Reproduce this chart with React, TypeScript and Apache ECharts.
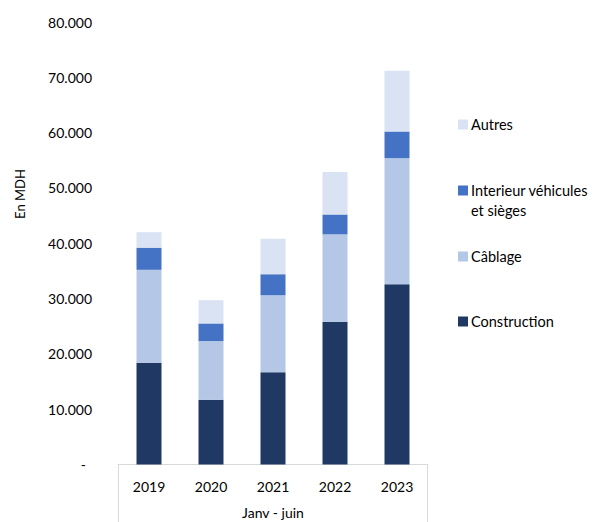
import React, { useEffect, useRef } from "react";
import * as echarts from "echarts";

const categories = ["2019", "2020", "2021", "2022", "2023"];
const construction = [18400, 11700, 16700, 25800, 32600];
const cablage = [16800, 10600, 13900, 15800, 22800];
const interieur = [4000, 3200, 3800, 3600, 4800];
const autres = [2800, 4200, 6400, 7700, 11000];
const yTicks = [0, 10000, 20000, 30000, 40000, 50000, 60000, 70000, 80000];

const FONT = "Lato";

const seriesDefs = [
  { name: "Construction", data: construction, color: "#203864" },
  { name: "Câblage", data: cablage, color: "#B4C7E7" },
  { name: "Interieur véhicules et sièges", data: interieur, color: "#4472C4" },
  { name: "Autres", data: autres, color: "#DAE3F3" },
];

const legendPos: Record<string, number> = {
  "Autres": 125,
  "Interieur véhicules et sièges": 191,
  "Câblage": 257,
  "Construction": 322,
};

function fmt(v: number): string {
  if (v === 0) return "{d|-}";
  const s = String(Math.round(v));
  return s.replace(/\B(?=(\d{3})+(?!\d))/g, ".");
}

export default function App() {
  const ref = useRef<HTMLDivElement>(null);
  useEffect(() => {
    if (!ref.current) return;
    const chart = echarts.init(ref.current, null, { renderer: "svg" });
    chart.setOption({
      animation: false,
      textStyle: { fontFamily: FONT },
      grid: { left: 118, right: 168, top: 22, bottom: 57.5 },
      xAxis: {
        type: "category",
        data: categories,
        axisLine: { lineStyle: { color: "#D9D9D9", width: 1 } },
        axisTick: { show: false },
        axisLabel: { color: "#000", fontSize: 14, margin: 15, fontFamily: FONT },
      },
      yAxis: {
        type: "value",
        min: yTicks[0],
        max: yTicks[yTicks.length - 1],
        interval: 10000,
        splitLine: { show: false },
        axisLine: { show: false },
        axisTick: { show: false },
        axisLabel: {
          color: "#000",
          fontSize: 14,
          margin: 26,
          fontFamily: FONT,
          formatter: (v: number) => fmt(v),
          rich: { d: { padding: [0, 6, 0, 0], fontSize: 14, color: "#000", fontFamily: FONT } },
        },
      },
      legend: seriesDefs.map((s) => ({
        data: [s.name],
        orient: "vertical",
        left: 458,
        top: legendPos[s.name] - 8,
        padding: 0,
        itemWidth: 10,
        itemHeight: 10,
        icon: "rect",
        selectedMode: false,
        textStyle: { color: "#000", fontSize: 14.5, fontFamily: FONT, padding: [0, 0, 0, -2] },
        formatter: (n: string) => (n === "Interieur véhicules et sièges" ? "Interieur véhicules" : n),
      })),
      series: seriesDefs.map((s) => ({
        name: s.name,
        type: "bar",
        stack: "total",
        data: s.data,
        barWidth: 25,
        itemStyle: { color: s.color },
      })),
      graphic: [
        {
          type: "line",
          shape: { x1: 118.5, y1: 464.5, x2: 118.5, y2: 522 },
          style: { stroke: "#D9D9D9", lineWidth: 1 },
        },
        {
          type: "line",
          shape: { x1: 427.5, y1: 464.5, x2: 427.5, y2: 522 },
          style: { stroke: "#D9D9D9", lineWidth: 1 },
        },
        {
          type: "text",
          x: 273,
          y: 512,
          style: {
            text: "Janv - juin",
            fill: "#000",
            fontSize: 14,
            fontFamily: FONT,
            textAlign: "center",
            textVerticalAlign: "middle",
          },
        },
        {
          type: "text",
          x: 20,
          y: 194,
          rotation: Math.PI / 2,
          style: {
            text: "En MDH",
            fill: "#000",
            fontSize: 13,
            fontFamily: FONT,
            textAlign: "center",
            textVerticalAlign: "middle",
          },
        },
        {
          type: "text",
          x: 471,
          y: 210,
          style: {
            text: "et sièges",
            fill: "#000",
            fontSize: 14.5,
            fontFamily: FONT,
            textAlign: "left",
            textVerticalAlign: "middle",
          },
        },
      ],
    });
    return () => chart.dispose();
  }, []);
  return <div ref={ref} style={{ width: 596, height: 522, position: "absolute", left: 0, top: 0 }} />;
}
